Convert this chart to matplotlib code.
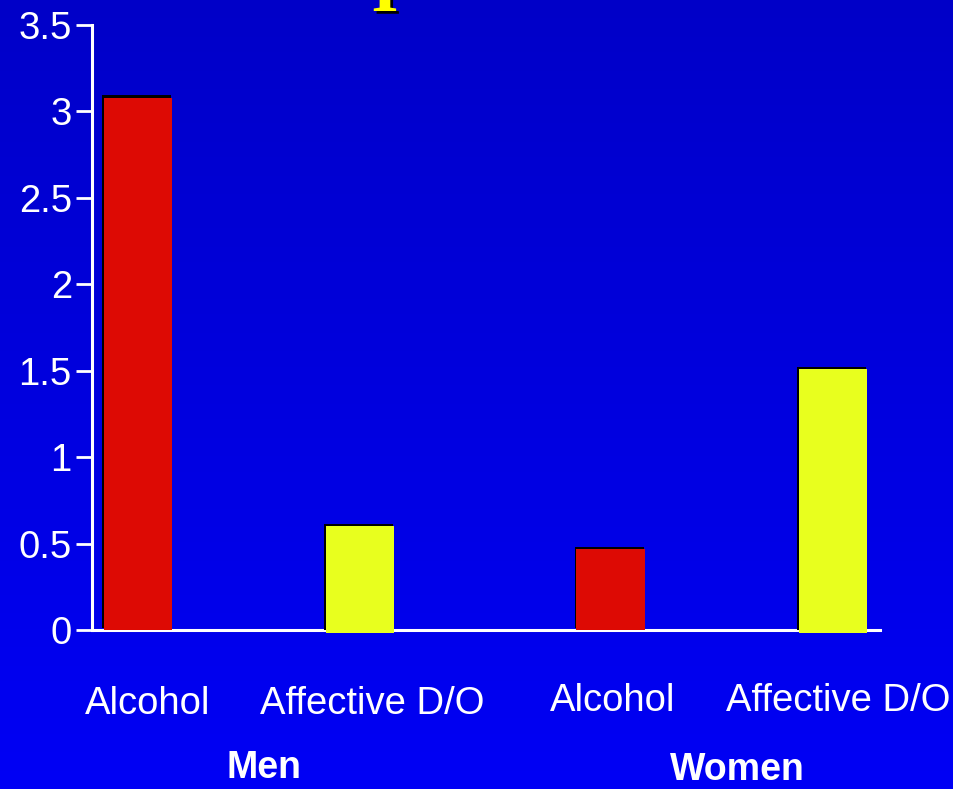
import numpy as np
import matplotlib
matplotlib.use("Agg")
import matplotlib.pyplot as plt
import matplotlib.patheffects as pe
import matplotlib.transforms as mtransforms

# ---- data ----
groups = ["Men", "Women"]
categories = ["Alcohol", "Affective D/O", "Alcohol", "Affective D/O"]
values = [3.08, 0.60, 0.47, 1.51]
colors = ["#DD0A04", "#E8FF1E", "#DD0A04", "#E8FF1E"]
yticks = [0, 0.5, 1, 1.5, 2, 2.5, 3, 3.5]
ytick_labels = ["0", "0.5", "1", "1.5", "2", "2.5", "3", "3.5"]

plt.rcParams['font.family'] = ['Liberation Sans', 'DejaVu Sans']

W, H = 954, 789
fig = plt.figure(figsize=(W / 100, H / 100), dpi=100)

# background gradient
bg = fig.add_axes([0, 0, 1, 1], zorder=-10)
grad = np.linspace(0, 1, 256).reshape(-1, 1)
top = np.array([0, 0, 200]) / 255
bot = np.array([0, 0, 245]) / 255
img = top[None, None, :] * (1 - grad[:, :, None]) + bot[None, None, :] * grad[:, :, None]
bg.imshow(img, aspect='auto', extent=[0, 1, 0, 1])
bg.axis('off')

# main axes
ax = fig.add_axes([92 / W, 1 - 630 / H, (880 - 92) / W, (630 - 25) / H])
ax.set_facecolor('none')

positions = [0, 1, 2.13, 3.13]
bottoms = [0, -0.015, 0, -0.015]
shadow = [pe.SimplePatchShadow(offset=(-0.8, 1.6), shadow_rgbFace='black', alpha=1.0), pe.Normal()]
bars = ax.bar(positions, np.array(values) - np.array(bottoms), bottom=bottoms,
              width=0.31, color=colors, zorder=5, clip_on=False)
for b in bars:
    b.set_path_effects(shadow)

ax.set_xlim(-0.207, 3.342)
ax.set_ylim(0, 3.5)

for s in ['top', 'right']:
    ax.spines[s].set_visible(False)
for s in ['left', 'bottom']:
    ax.spines[s].set_color('white')
    ax.spines[s].set_linewidth(2.2)

ax.set_yticks(yticks)
ax.set_yticklabels(ytick_labels)
ax.tick_params(axis='y', colors='white', length=11.5, width=2, labelsize=27.5, pad=3, direction='out')
ax.set_xticks(positions)
ax.set_xticklabels(categories)
ax.tick_params(axis='x', length=0, colors='white', labelsize=27.5, pad=40)
for lab, dx, dy in zip(ax.get_xticklabels(), [10, 12, 2, 5], [0, 0, 3, 3]):
    lab.set_transform(lab.get_transform() + mtransforms.ScaledTranslation(dx / 100, dy / 100, fig.dpi_scale_trans))

# group labels
group_x = [(positions[0] + positions[1]) / 2, (positions[2] + positions[3]) / 2]
group_dy = [-0.228, -0.231]
for g, gx, gy in zip(groups, group_x, group_dy):
    t = ax.get_xaxis_transform() + mtransforms.ScaledTranslation(15 / 100, 0, fig.dpi_scale_trans)
    ax.text(gx, gy, g, transform=t, ha='center', va='center',
            color='white', fontsize=27, fontweight='bold')

# cut-off title fragment (as in the reference, only its foot is visible)
fig.text(385 / W, 1 - 11 / H, "I", ha='center', va='baseline', color='#FFFF00',
         fontsize=50, fontweight='bold', family=['Liberation Serif', 'DejaVu Serif'],
         path_effects=[pe.SimplePatchShadow(offset=(2, -2), shadow_rgbFace='black', alpha=1.0), pe.Normal()])

fig.savefig('out.png', dpi=100)
